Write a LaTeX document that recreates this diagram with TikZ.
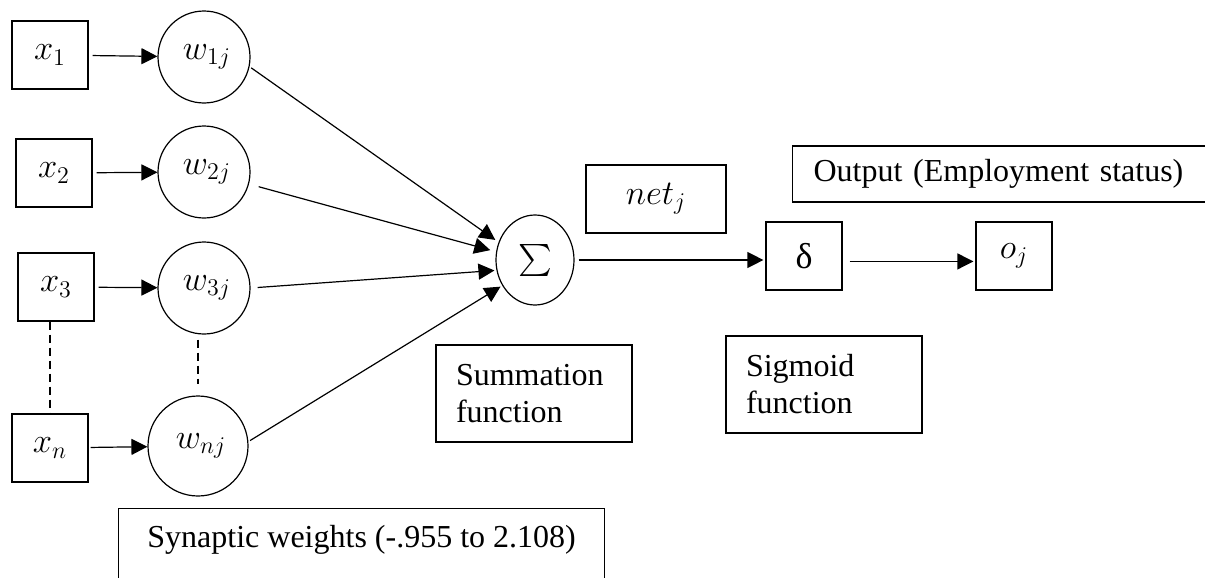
\documentclass[tikz,border=0pt]{standalone}
\usepackage{amsmath,amssymb}
\usepackage{fontspec}
\setmainfont{Liberation Serif}
\usetikzlibrary{arrows.meta,positioning,shapes.geometric,calc}

\tikzset{
  varbox/.style={draw, line width=0.6pt, minimum width=38pt, minimum height=34pt, inner sep=0pt},
  weight/.style={draw, circle, line width=0.6pt, minimum size=46pt, inner sep=0pt},
  labelbox/.style={draw, line width=0.6pt, align=left},
  link/.style={-{Triangle[length=8pt,width=8pt]}, line width=0.6pt},
  dots/.style={line width=0.6pt, dash pattern=on 4pt off 2.5pt},
  bigmath/.style={font=\fontsize{18}{21}\selectfont}
}

\begin{document}
\begin{tikzpicture}[x=0.5pt,y=-0.5pt, font=\fontsize{16}{18.5}\selectfont]
      \useasboundingbox (0,0) rectangle (1205,578);
      \clip (0,0) rectangle (1205,578);
      % inputs and their weights
      \foreach \n/\xx/\yx/\yw in {1/50/55/57,2/54/173/172,3/56/287/288} {
        \node[varbox, bigmath] (x\n) at (\xx,\yx) {$x_\n$};
        \node[weight, bigmath] (w\n) at (204,\yw) {\,$w_{\n j}$};
        \draw[link, shorten <=2pt] (x\n) -- (w\n);
      }
      \node[varbox, bigmath] (xn) at (50,448) {$x_n$};
      \node[weight, bigmath, minimum size=50pt] (wn) at (198,446) {\,$w_{nj}$};
      \draw[link, shorten <=1pt] (xn) -- (wn);
      \draw[dots] (x3.south -| xn.north) -- (xn.north);
      \draw[dots, shorten <=2.5pt, shorten >=5.5pt] (wn.north |- w3.south) -- (wn.north);
      % summation and activation
      \node[draw, ellipse, line width=0.6pt, minimum width=39pt, minimum height=45pt, inner sep=0pt] (sum) at (535,260) {$\sum$};
      \draw[link, shorten <=1pt, shorten >=2pt] (w1.-12) -- (sum.154);
      \draw[link, shorten <=5pt, shorten >=3pt] (w2.-15) -- (sum.168);
      \draw[link, shorten <=3.5pt, shorten >=1pt] (w3.0) -- (sum.195);
      \draw[link, shorten <=1pt, shorten >=1pt] (wn.5) -- (sum.218);
      \node[varbox, bigmath] (delta) at (804,256) {δ};
      \node[varbox, bigmath] (oj) at (1014,256) {$o_j$};
      \draw[link, shorten <=2pt, shorten >=1pt] (sum.east) -- (sum.east -| delta.west);
      \draw[link, shorten <=3.5pt, shorten >=1pt] (delta.-8) -- (delta.-8 -| oj.west);
      % labels
      \node[varbox, font=\fontsize{17}{20}\selectfont, minimum width=70pt] (net) at (656,199) {$net_j$};
      \node[labelbox, anchor=west, inner xsep=10.5pt, minimum height=28pt, text width=200pt] (outlbl) at (792,174) {Output (Employment status)};
      \node[labelbox, minimum width=98pt, minimum height=48.5pt, inner xsep=10pt, text width=78pt] (sumlbl) at (534,393.5) {Summation\\function};
      \node[labelbox, minimum width=98pt, minimum height=48.5pt, inner xsep=10pt, text width=78pt] (siglbl) at (824,384.5) {Sigmoid\\function};
      \node[draw, line width=0.6pt, anchor=north west, minimum width=243pt, inner ysep=8pt, text height=11.5pt, text depth=30pt] (synlbl) at (118,508) {Synaptic weights (-.955 to 2.108)};
\end{tikzpicture}
\end{document}
